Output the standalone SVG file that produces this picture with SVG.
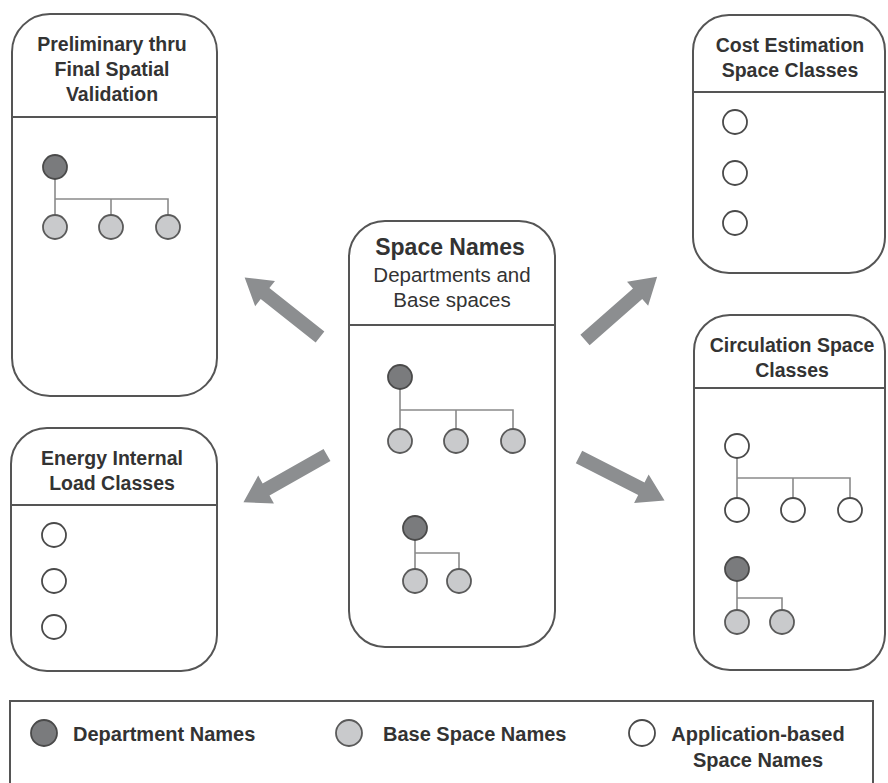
<svg xmlns="http://www.w3.org/2000/svg" width="888" height="783" viewBox="0 0 888 783">
  <style>
    .box { fill: #ffffff; stroke: #555555; stroke-width: 2; }
    .rule { stroke: #555555; stroke-width: 2; }
    .title { font-family: "Liberation Sans", Arial, sans-serif; font-weight: bold; font-size: 19.5px; fill: #333333; text-anchor: middle; }
    .big { font-family: "Liberation Sans", Arial, sans-serif; font-weight: bold; font-size: 23px; fill: #333333; text-anchor: middle; }
    .sub { font-family: "Liberation Sans", Arial, sans-serif; font-size: 20.5px; fill: #333333; text-anchor: middle; }
    .legend { font-family: "Liberation Sans", Arial, sans-serif; font-weight: bold; font-size: 20px; fill: #333333; }
    .tree { fill: none; stroke: #8a8a8a; stroke-width: 1.6; }
    .dept { fill: #7a7b7d; stroke: #4a4a4a; stroke-width: 1.8; }
    .base { fill: #c9cacc; stroke: #5a5a5a; stroke-width: 1.8; }
    .app { fill: #ffffff; stroke: #4a4a4a; stroke-width: 1.8; }
    .arrow { fill: #8c8e90; }
  </style>
  <defs>
    <!-- block arrow, tail at origin, pointing along +x -->
    <path id="blockArrow" d="M0,-7 L70,-7 L70,-16 L96,0 L70,16 L70,7 L0,7 Z"/>
  </defs>

  <rect width="888" height="783" fill="#ffffff"/>

  <!-- connectors: arrows from the central node -->
  <g id="connectors" class="arrow">
    <use href="#blockArrow" transform="translate(320,337) rotate(218.3)"/>
    <use href="#blockArrow" transform="translate(327,455) rotate(150.5)"/>
    <use href="#blockArrow" transform="translate(585,340) rotate(-41.3)"/>
    <use href="#blockArrow" transform="translate(579,457) rotate(27)"/>
  </g>

  <!-- Preliminary thru Final Spatial Validation -->
  <g id="spatial-validation">
    <rect class="box" x="12" y="14" width="205" height="382" rx="38"/>
    <line class="rule" x1="12" y1="117" x2="217" y2="117"/>
    <text class="title" x="112" y="51">Preliminary thru</text>
    <text class="title" x="112" y="76">Final Spatial</text>
    <text class="title" x="112" y="101">Validation</text>
    <path class="tree" d="M55,167 V227 M55,199 H168 V227 M111,199 V227"/>
    <circle class="dept" cx="55" cy="167" r="12"/>
    <circle class="base" cx="55" cy="227" r="12"/>
    <circle class="base" cx="111" cy="227" r="12"/>
    <circle class="base" cx="168" cy="227" r="12"/>
  </g>

  <!-- Energy Internal Load Classes -->
  <g id="energy-load">
    <rect class="box" x="11" y="428" width="206" height="243" rx="36"/>
    <line class="rule" x1="11" y1="505" x2="217" y2="505"/>
    <text class="title" x="112" y="465">Energy Internal</text>
    <text class="title" x="112" y="490">Load Classes</text>
    <circle class="app" cx="54" cy="535" r="12"/>
    <circle class="app" cx="54" cy="581" r="12"/>
    <circle class="app" cx="54" cy="627" r="12"/>
  </g>

  <!-- Space Names (central node) -->
  <g id="space-names">
    <rect class="box" x="349" y="221" width="206" height="426" rx="36"/>
    <line class="rule" x1="349" y1="325" x2="555" y2="325"/>
    <text class="big" x="450" y="255">Space Names</text>
    <text class="sub" x="452" y="282">Departments and</text>
    <text class="sub" x="452" y="307">Base spaces</text>
    <path class="tree" d="M400,377 V441 M400,410 H513 V441 M456,410 V441"/>
    <circle class="dept" cx="400" cy="377" r="12"/>
    <circle class="base" cx="400" cy="441" r="12"/>
    <circle class="base" cx="456" cy="441" r="12"/>
    <circle class="base" cx="513" cy="441" r="12"/>
    <path class="tree" d="M415,528 V581 M415,553 H459 V581"/>
    <circle class="dept" cx="415" cy="528" r="12"/>
    <circle class="base" cx="415" cy="581" r="12"/>
    <circle class="base" cx="459" cy="581" r="12"/>
  </g>

  <!-- Cost Estimation Space Classes -->
  <g id="cost-estimation">
    <rect class="box" x="693" y="15" width="192" height="258" rx="36"/>
    <line class="rule" x1="693" y1="92" x2="885" y2="92"/>
    <text class="title" x="790" y="52">Cost Estimation</text>
    <text class="title" x="790" y="77">Space Classes</text>
    <circle class="app" cx="735" cy="122" r="12"/>
    <circle class="app" cx="735" cy="173" r="12"/>
    <circle class="app" cx="735" cy="223" r="12"/>
  </g>

  <!-- Circulation Space Classes -->
  <g id="circulation">
    <rect class="box" x="694" y="315" width="191" height="355" rx="36"/>
    <line class="rule" x1="694" y1="388" x2="885" y2="388"/>
    <text class="title" x="792" y="352">Circulation Space</text>
    <text class="title" x="792" y="377">Classes</text>
    <path class="tree" d="M737,446 V510 M737,478 H850 V510 M793,478 V510"/>
    <circle class="app" cx="737" cy="446" r="12"/>
    <circle class="app" cx="737" cy="510" r="12"/>
    <circle class="app" cx="793" cy="510" r="12"/>
    <circle class="app" cx="850" cy="510" r="12"/>
    <path class="tree" d="M737,569 V622 M737,598 H782 V622"/>
    <circle class="dept" cx="737" cy="569" r="12"/>
    <circle class="base" cx="737" cy="622" r="12"/>
    <circle class="base" cx="782" cy="622" r="12"/>
  </g>

  <!-- Legend -->
  <g id="legend">
    <rect x="10" y="701" width="863" height="100" fill="#ffffff" stroke="#555555" stroke-width="2"/>
    <circle class="dept" cx="44" cy="733" r="13"/>
    <text class="legend" x="73" y="741">Department Names</text>
    <circle class="base" cx="349" cy="733" r="13"/>
    <text class="legend" x="383" y="741">Base Space Names</text>
    <circle class="app" cx="642" cy="733" r="13"/>
    <text class="legend" x="758" y="741" text-anchor="middle">Application-based</text>
    <text class="legend" x="758" y="767" text-anchor="middle">Space Names</text>
  </g>
</svg>
